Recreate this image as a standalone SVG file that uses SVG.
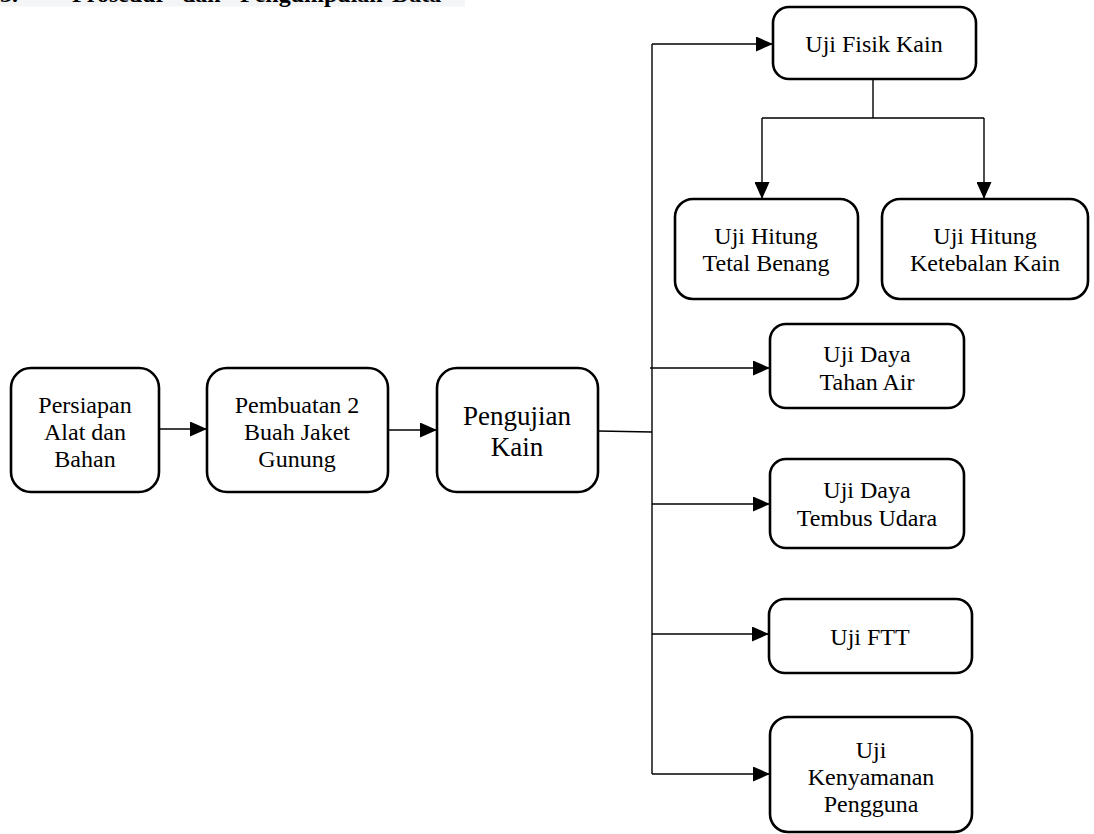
<svg xmlns="http://www.w3.org/2000/svg" width="1094" height="834" viewBox="0 0 1094 834">
<style>
.box{fill:#ffffff;stroke:#000000;stroke-width:2.6}
.lbl{font-family:"Liberation Serif","Times New Roman",serif;font-size:24px;fill:#000000;text-anchor:middle}
.big{font-size:27px}
.conn{fill:none;stroke:#000000;stroke-width:1.4}
.arr{marker-end:url(#ah)}
.head{font-family:"Liberation Serif","Times New Roman",serif;font-size:24px;font-weight:bold;fill:#000000}
</style>
<defs>
<marker id="ah" markerUnits="userSpaceOnUse" markerWidth="17" markerHeight="15" viewBox="0 0 17 15" refX="17" refY="7.5" orient="auto">
<path d="M0,0 L17,7.5 L0,15 Z" fill="#000000"/>
</marker>
</defs>
<rect x="0" y="0" width="465" height="6.5" fill="#f4f5f6"/>
<text class="head" y="2"><tspan x="0">3.</tspan><tspan x="72">Prosedur</tspan><tspan x="182">dan</tspan><tspan x="240">Pengumpulan</tspan><tspan x="392">Data</tspan></text>
<g id="connectors">
<path class="conn arr" d="M159,429 H207"/>
<path class="conn arr" d="M388,430 H437"/>
<path class="conn" d="M598,431 L652,432"/>
<path class="conn" d="M652,44 V774"/>
<path class="conn arr" d="M652,44 H773"/>
<path class="conn arr" d="M650,368 H770"/>
<path class="conn arr" d="M652,504 H770"/>
<path class="conn arr" d="M652,634 H769"/>
<path class="conn arr" d="M652,774 H770"/>
<path class="conn" d="M873,79 V118 M762,118 H984"/>
<path class="conn arr" d="M762,118 V199"/>
<path class="conn arr" d="M984,118 V199"/>
</g>
<g id="persiapan">
<rect class="box" x="11" y="368" width="148" height="124" rx="20"/>
<text class="lbl" x="85" y="413">Persiapan</text>
<text class="lbl" x="85" y="440">Alat dan</text>
<text class="lbl" x="85" y="467">Bahan</text>
</g>
<g id="pembuatan">
<rect class="box" x="207" y="368" width="181" height="124" rx="20"/>
<text class="lbl" x="297" y="413">Pembuatan 2</text>
<text class="lbl" x="297" y="440">Buah Jaket</text>
<text class="lbl" x="297" y="467">Gunung</text>
</g>
<g id="pengujian">
<rect class="box" x="437" y="368" width="161" height="124" rx="20"/>
<text class="lbl big" x="517" y="425">Pengujian</text>
<text class="lbl big" x="517" y="456">Kain</text>
</g>
<g id="fisik">
<rect class="box" x="773" y="7" width="203" height="72" rx="16"/>
<text class="lbl" x="874" y="52">Uji Fisik Kain</text>
</g>
<g id="tetal">
<rect class="box" x="675" y="199" width="183" height="100" rx="18"/>
<text class="lbl" x="766" y="244">Uji Hitung</text>
<text class="lbl" x="766" y="271">Tetal Benang</text>
</g>
<g id="ketebalan">
<rect class="box" x="882" y="199" width="206" height="100" rx="18"/>
<text class="lbl" x="985" y="244">Uji Hitung</text>
<text class="lbl" x="985" y="271">Ketebalan Kain</text>
</g>
<g id="tahan-air">
<rect class="box" x="770" y="324" width="194" height="84" rx="16"/>
<text class="lbl" x="867" y="362">Uji Daya</text>
<text class="lbl" x="867" y="390">Tahan Air</text>
</g>
<g id="tembus-udara">
<rect class="box" x="770" y="459" width="194" height="89" rx="16"/>
<text class="lbl" x="867" y="498">Uji Daya</text>
<text class="lbl" x="867" y="526">Tembus Udara</text>
</g>
<g id="ftt">
<rect class="box" x="769" y="599" width="203" height="74" rx="16"/>
<text class="lbl" x="870" y="645">Uji FTT</text>
</g>
<g id="kenyamanan">
<rect class="box" x="770" y="717" width="202" height="115" rx="18"/>
<text class="lbl" x="871" y="758">Uji</text>
<text class="lbl" x="871" y="785">Kenyamanan</text>
<text class="lbl" x="871" y="812">Pengguna</text>
</g>
</svg>
